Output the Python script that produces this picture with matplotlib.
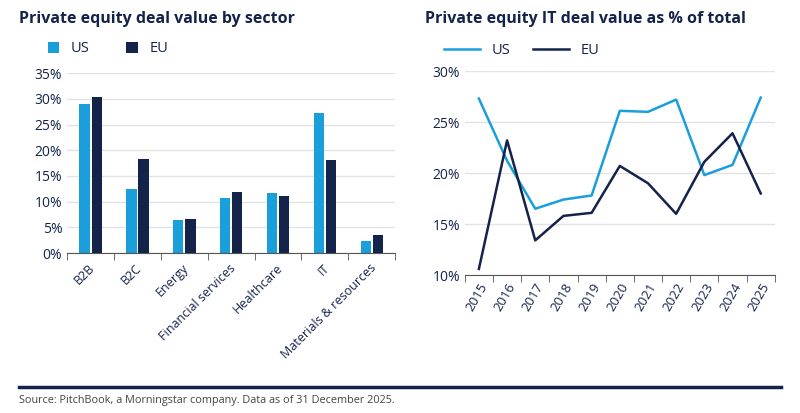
import numpy as np
import matplotlib.pyplot as plt
from matplotlib.ticker import PercentFormatter
from matplotlib.lines import Line2D

sectors = ["B2B", "B2C", "Energy", "Financial services", "Healthcare", "IT",
           "Materials & resources"]
us_sector = [28.9, 12.4, 6.4, 10.7, 11.7, 27.3, 2.4]
eu_sector = [30.4, 18.3, 6.7, 11.9, 11.2, 18.1, 3.6]

years = [str(y) for y in range(2015, 2026)]
us_it = [27.3, 21.2, 16.5, 17.4, 17.8, 26.1, 26.0, 27.2, 19.8, 20.8, 27.4]
eu_it = [10.6, 23.2, 13.4, 15.8, 16.1, 20.7, 19.0, 16.0, 21.1, 23.9, 18.0]

US_C = "#1a9fdb"
EU_C = "#14234a"
TXT = "#14234a"
plt.rcParams["font.family"] = "Open Sans"

fig = plt.figure(figsize=(8, 4.13), dpi=100)

# left: bars by sector
ax1 = fig.add_axes([0.084, 0.387, 0.41, 0.436])
x = np.arange(len(sectors))
w = 0.22
ax1.bar(x - w / 2 - 0.02, us_sector, w, color=US_C, label="US")
ax1.bar(x + w / 2 + 0.02, eu_sector, w, color=EU_C, label="EU")
ax1.set_xlim(-0.5, len(sectors) - 0.5)
ax1.set_ylim(0, 35)
ax1.set_yticks(range(0, 36, 5))
ax1.yaxis.set_major_formatter(PercentFormatter(decimals=0))
ax1.set_xticks(x - 0.05)
ax1.set_xticklabels(sectors, rotation=45, ha="right", rotation_mode="anchor",
                    fontsize=9, color=TXT)
ax1.set_xticks(np.arange(len(sectors) + 1) - 0.5, minor=True)
ax1.tick_params(axis="x", which="major", length=0, pad=6)
ax1.tick_params(axis="x", which="minor", length=5, color="#555")

# right: IT share over time
ax2 = fig.add_axes([0.581, 0.334, 0.3875, 0.494])
xi = np.arange(len(years))
ax2.plot(xi, us_it, color=US_C, lw=1.8, label="US")
ax2.plot(xi, eu_it, color=EU_C, lw=1.8, label="EU")
ax2.set_xlim(-0.5, len(years) - 0.5)
ax2.set_ylim(10, 30)
ax2.set_yticks(range(10, 31, 5))
ax2.yaxis.set_major_formatter(PercentFormatter(decimals=0))
ax2.set_xticks(xi)
ax2.set_xticklabels(years, rotation=60, ha="right", rotation_mode="anchor",
                    fontsize=9.5, color=TXT)
ax2.set_xticks(np.arange(len(years) + 1) - 0.5, minor=True)
ax2.tick_params(axis="x", which="major", length=0, pad=4)
ax2.tick_params(axis="x", which="minor", length=5, color="#555")

for ax in (ax1, ax2):
    for s in ("top", "right", "left"):
        ax.spines[s].set_visible(False)
    ax.spines["bottom"].set_color("#555")
    ax.grid(axis="y", color="#e3e3e3", lw=1)
    ax.set_axisbelow(True)
    ax.tick_params(axis="y", length=0, labelsize=10, labelcolor=TXT)

fig.text(0.024, 0.955, "Private equity deal value by sector", fontsize=11.5,
         fontweight="bold", color=TXT, va="center")
fig.text(0.531, 0.955, "Private equity IT deal value as % of total", fontsize=11.5,
         fontweight="bold", color=TXT, va="center")

ax1.legend(loc="lower left", bbox_to_anchor=(-0.1, 1.02), ncol=2, frameon=False,
           fontsize=10.5, handlelength=0.8, handleheight=0.8, columnspacing=2.5,
           labelcolor=TXT)
ax2.legend(loc="lower left", bbox_to_anchor=(-0.11, 1.0), ncol=2, frameon=False,
           fontsize=10.5, handlelength=2.5, columnspacing=1.5, labelcolor=TXT)

fig.add_artist(Line2D([0.024, 0.976], [0.063, 0.063], color=EU_C, lw=2.5))
fig.text(0.024, 0.03, "Source: PitchBook, a Morningstar company. Data as of 31 December 2025.",
         fontsize=7.8, color="#444", va="center")

fig.savefig("out.png", dpi=100)
